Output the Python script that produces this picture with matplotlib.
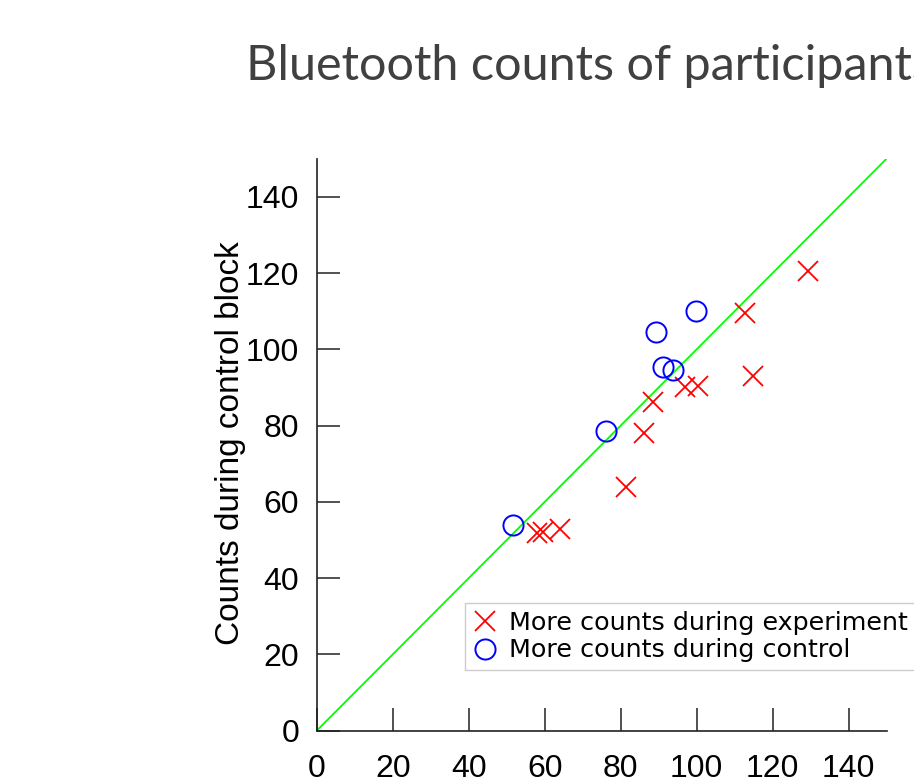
import matplotlib
matplotlib.use('Agg')
import matplotlib.pyplot as plt

# Values
exp_x = [129.4, 112.8, 114.9, 100.3, 96.9, 88.6, 86.2, 81.3, 64.0, 59.6, 57.9]
exp_y = [120.5, 109.4, 93.0, 90.5, 90.2, 86.1, 78.0, 64.0, 52.8, 52.2, 51.8]
ctl_x = [99.8, 89.3, 91.1, 93.7, 76.2, 51.7]
ctl_y = [110.0, 104.5, 95.4, 94.6, 78.5, 53.9]
diag = [0, 150]
ticks = [0, 20, 40, 60, 80, 100, 120, 140]

title = "Bluetooth counts of participants"
ylabel = "Counts during control block"
labels = ["More counts during experiment", "More counts during control"]

fig = plt.figure(figsize=(9.14, 7.77), dpi=100)
ax = fig.add_axes([0.3465, 0.0596, 0.6236, 0.7363])

# identity line
ax.plot(diag, diag, color='#00ff00', lw=1.3, zorder=1)

# the two groups of participants
ax.plot(exp_x, exp_y, 'x', color='#ff0000', ms=14.5, mew=1.3, label=labels[0], zorder=3)
ax.plot(ctl_x, ctl_y, 'o', mfc='none', mec='#0000ff', ms=14.5, mew=1.4, label=labels[1], zorder=3)

ax.set_xlim(0, 150)
ax.set_ylim(0, 150)
ax.set_xticks(ticks)
ax.set_yticks(ticks)

for side in ['top', 'right']:
    ax.spines[side].set_visible(False)
for side in ['left', 'bottom']:
    ax.spines[side].set_linewidth(1.2)
    ax.spines[side].set_color('#222222')

ax.tick_params(direction='in', length=16.5, width=1.1, color='#222222')
ax.tick_params(axis='x', pad=17)
ax.tick_params(axis='y', pad=12.5)
for lab in ax.get_xticklabels() + ax.get_yticklabels():
    lab.set_fontfamily('Liberation Sans')
    lab.set_fontsize(23)

fig.text(231 / 914, 1 - 443 / 777, ylabel, rotation=90, ha='center', va='center',
         fontfamily='Liberation Sans', fontsize=24)

fig.text(246 / 914, 1 - 80 / 777, title, ha='left', va='baseline',
         fontfamily='Lato', fontsize=35, color='#404040')

leg = ax.legend(loc='upper left', bbox_to_anchor=(465 / 914, 1 - 603 / 777),
                bbox_transform=fig.transFigure, borderaxespad=0,
                prop={'family': 'DejaVu Sans', 'size': 18.3},
                handlelength=1.0, handletextpad=0.45, borderpad=0.3,
                labelspacing=0.15, fancybox=False, framealpha=1)
leg.get_frame().set_edgecolor('#cccccc')
leg.get_frame().set_linewidth(1.0)

fig.savefig('out.png', dpi=100)
